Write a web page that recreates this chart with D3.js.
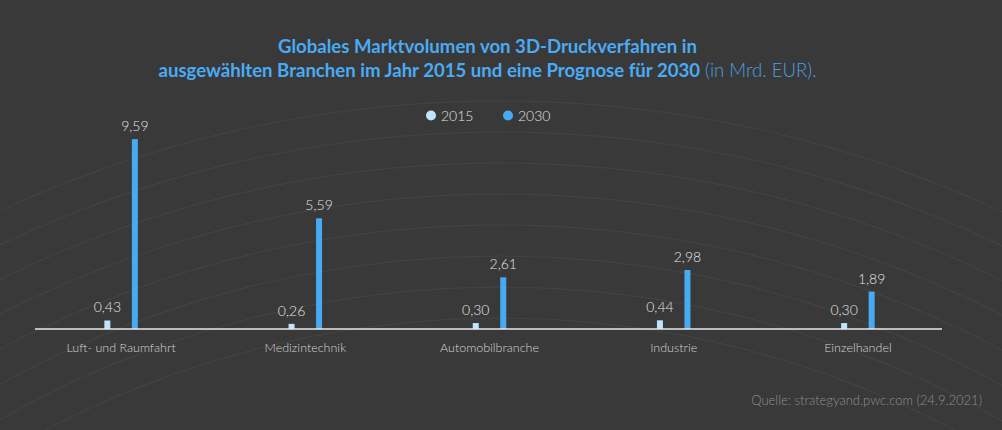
<!DOCTYPE html>
<html><head><meta charset="utf-8">
<script src="https://cdn.jsdelivr.net/npm/d3@7"></script>
<style>html,body{margin:0;padding:0;background:#393939;}svg{display:block;}</style>
</head><body>
<svg id="c" width="1002" height="430"></svg>
<script>
const categories = ["Luft- und Raumfahrt","Medizintechnik","Automobilbranche","Industrie","Einzelhandel"];
const series = ["2015","2030"];
const values2015 = [0.43,0.26,0.30,0.44,0.30];
const values2030 = [9.59,5.59,2.61,2.98,1.89];
const colors = ["#bfe4fd","#47abf3"];

const svg = d3.select("#c");
const W=1002,H=430;
svg.append("rect").attr("width",W).attr("height",H).attr("fill","#393939");

// background arcs
const arcs = svg.append("g");
const cx=500, cy=1295;
for(let i=0;i<8;i++){
  const r = 1194 - i*31;
  arcs.append("circle").attr("cx",cx).attr("cy",cy).attr("r",r)
    .attr("fill","none").attr("stroke","#ffffff").attr("stroke-opacity",0.055).attr("stroke-width",1);
}

const font = "Lato, 'Source Sans Pro', sans-serif";
const x0 = d3.scaleBand().domain(categories).range([29,950]);
const x1 = d3.scaleBand().domain(series).range([-27.5,27.5]);
const y = d3.scaleLinear().domain([0,10]).range([329,131]);

const data = categories.map((c,i)=>({cat:c, vals:[{s:"2015",v:values2015[i]},{s:"2030",v:values2030[i]}]}));
const fmt = v => d3.format(".2f")(v).replace(".",",");

const g = svg.append("g");
const groups = g.selectAll("g.grp").data(data).join("g")
  .attr("transform", d=>`translate(${x0(d.cat)+x0.bandwidth()/2},0)`);
const bw=6;
groups.selectAll("rect").data(d=>d.vals).join("rect")
  .attr("x", d=>x1(d.s)+x1.bandwidth()/2-bw/2)
  .attr("y", d=>y(d.v)).attr("width",bw).attr("height",d=>y(0)-y(d.v))
  .attr("fill",(d,i)=>colors[i]);
groups.selectAll("text.val").data(d=>d.vals).join("text").attr("class","val")
  .attr("x", d=>x1(d.s)+x1.bandwidth()/2).attr("y", d=>y(d.v)-8)
  .attr("text-anchor","middle").attr("font-family",font).attr("font-size",14).attr("font-weight",300)
  .attr("fill","#e4e4e4").text(d=>fmt(d.v));

// axis
const axis = svg.append("g").attr("transform",`translate(0,${y(0)})`)
  .call(d3.axisBottom(x0).tickSize(0).tickPadding(14));
axis.select(".domain").attr("stroke","#e8e8e8").attr("stroke-width",1.5).attr("d","M35,0H942");
axis.selectAll("text").attr("font-family",font).attr("font-size",12.5).attr("font-weight",300).attr("fill","#d4d4d4");

// title
const t1 = svg.append("text").attr("x",487.5).attr("y",53).attr("text-anchor","middle")
  .attr("font-family",font).attr("font-size",18.6).attr("font-weight","bold").attr("fill","#4aabf4")
  .text("Globales Marktvolumen von 3D-Druckverfahren in");
const t2 = svg.append("text").attr("x",487.5).attr("y",77).attr("text-anchor","middle")
  .attr("font-family",font).attr("font-size",18.6).attr("fill","#4aabf4");
t2.append("tspan").attr("font-weight","bold").text("ausgewählten Branchen im Jahr 2015 und eine Prognose für 2030");
t2.append("tspan").attr("font-weight",300).attr("fill","#4a9fe0").text(" (in Mrd. EUR).");

// legend
const leg = svg.append("g").attr("transform","translate(0,115.5)");
const legX=[431,508];
series.forEach((s,i)=>{
  leg.append("circle").attr("cx",legX[i]).attr("cy",0).attr("r",5).attr("fill",colors[i]);
  leg.append("text").attr("x",legX[i]+10).attr("y",5).attr("font-family",font).attr("font-size",14).attr("font-weight",300)
    .attr("fill","#e0e0e0").text(s);
});

// source
svg.append("text").attr("x",982).attr("y",405).attr("text-anchor","end")
  .attr("font-family",font).attr("font-size",13).attr("font-weight",300).attr("fill","#8e8e8e")
  .text("Quelle: strategyand.pwc.com (24.9.2021)");
</script>
</body></html>
